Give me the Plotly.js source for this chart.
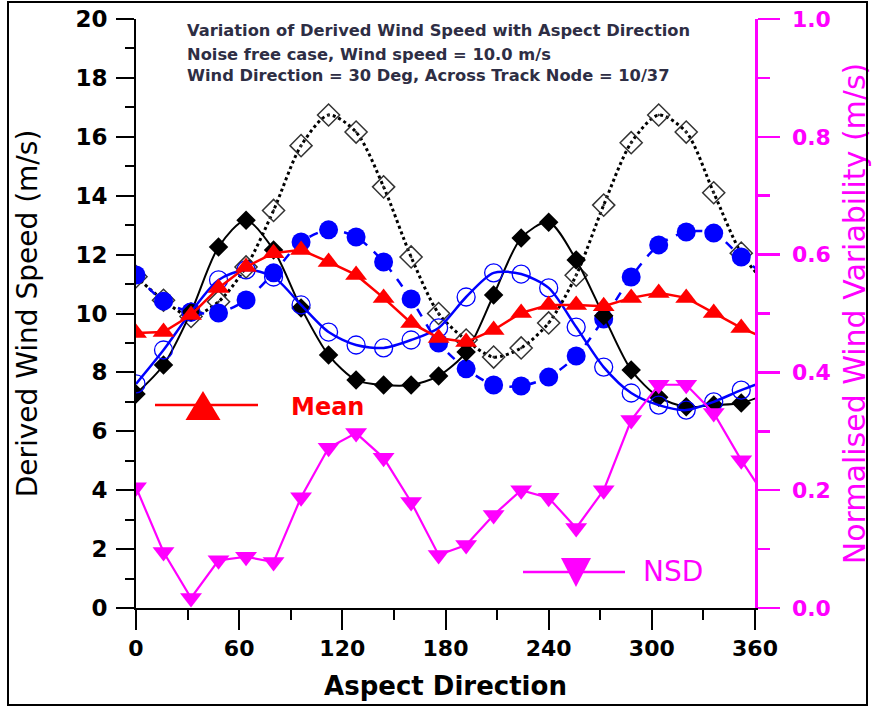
<!DOCTYPE html>
<html>
<head>
<meta charset="utf-8">
<script src="https://cdn.plot.ly/plotly-3.0.1.min.js"></script>
<style>
  html, body { margin: 0; padding: 0; background: #fff; }
  #wrap { position: relative; width: 872px; height: 708px; }
  #chart { position: absolute; left: 0; top: 0; width: 872px; height: 708px; }
  #frame { position: absolute; left: 7px; top: 1px; width: 861px; height: 705px;
           border: 2px solid #000; box-sizing: border-box; pointer-events: none; }
</style>
</head>
<body>
<div id="wrap">
  <div id="chart"></div>
  <div id="frame"></div>
</div>
<script>
// Aspect direction (deg); the last point lies just past the axis end and is clipped
const aspect = [0, 16, 32, 48, 64, 80, 96, 112, 128, 144, 160, 176, 192, 208, 224, 240, 256, 272, 288, 304, 320, 336, 352, 368];

// Derived wind speed (m/s), four solutions
const solidDiamond = [7.27, 8.25, 10.05, 12.26, 13.17, 12.16, 10.19, 8.59, 7.74, 7.57, 7.57, 7.88, 8.69, 10.63, 12.56, 13.10, 11.82, 9.92, 8.08, 7.16, 6.83, 6.89, 6.96, 7.30];
const openCircle   = [7.61, 8.76, 10.05, 11.14, 11.48, 11.24, 10.29, 9.37, 8.93, 8.83, 9.10, 9.51, 10.56, 11.38, 11.34, 10.87, 9.54, 8.18, 7.30, 6.89, 6.72, 7.00, 7.40, 7.75];
const solidCircle  = [11.31, 10.42, 10.05, 10.02, 10.46, 11.38, 12.43, 12.84, 12.60, 11.75, 10.49, 9.00, 8.12, 7.57, 7.54, 7.84, 8.56, 9.81, 11.24, 12.33, 12.77, 12.73, 11.92, 11.20];
const openDiamond  = [11.25, 10.45, 9.90, 10.40, 11.58, 13.50, 15.70, 16.74, 16.16, 14.30, 11.92, 10.00, 9.10, 8.52, 8.83, 9.68, 11.30, 13.68, 15.80, 16.74, 16.16, 14.10, 12.05, 10.90];
// Mean derived wind speed (m/s)
const meanSpeed    = [9.34, 9.37, 9.95, 10.87, 11.58, 12.05, 12.16, 11.75, 11.31, 10.53, 9.68, 9.17, 9.03, 9.44, 10.02, 10.29, 10.29, 10.25, 10.53, 10.70, 10.53, 10.02, 9.51, 9.10];
// Normalised standard deviation (right axis)
const nsd          = [0.205, 0.095, 0.017, 0.081, 0.087, 0.078, 0.188, 0.272, 0.297, 0.255, 0.180, 0.090, 0.107, 0.158, 0.200, 0.187, 0.136, 0.200, 0.319, 0.379, 0.379, 0.331, 0.251, 0.180];

const xTicks = [0, 60, 120, 180, 240, 300, 360];
const headerLines = [
  "Variation of Derived Wind Speed with Aspect Direction",
  "Noise free case, Wind speed = 10.0 m/s",
  "Wind Direction = 30 Deg, Across Track Node = 10/37"
];

const RED = "#ff0000", BLUE = "#0000ff", MAG = "#ff00ff";
const FONT = "DejaVu Sans";

const traces = [
  { x: aspect, y: openDiamond, type: "scatter", mode: "lines+markers", name: "Solution 4",
    line: { color: "#000", width: 3, dash: "dot", shape: "spline", smoothing: 0.8 },
    marker: { symbol: "diamond-open-dot", size: 17, color: "#333", line: { width: 1.5, color: "#333" } } },
  { x: aspect, y: solidCircle, type: "scatter", mode: "lines+markers", name: "Solution 3",
    line: { color: BLUE, width: 2.5, dash: "dash", shape: "spline", smoothing: 0.8 },
    marker: { symbol: "circle", size: 19, color: BLUE } },
  { x: aspect, y: solidDiamond, type: "scatter", mode: "lines+markers", name: "Solution 1",
    line: { color: "#000", width: 2, shape: "spline", smoothing: 0.8 },
    marker: { symbol: "diamond", size: 15, color: "#000" } },
  { x: aspect, y: openCircle, type: "scatter", mode: "lines+markers", name: "Solution 2",
    line: { color: BLUE, width: 2.5, shape: "spline", smoothing: 0.8 },
    marker: { symbol: "circle-open", size: 18, color: BLUE, line: { width: 1.3, color: BLUE } } },
  { x: aspect, y: meanSpeed, type: "scatter", mode: "lines+markers", name: "Mean",
    line: { color: RED, width: 2.5 },
    marker: { symbol: "triangle-up", size: 19, color: RED } },
  { x: aspect, y: nsd, type: "scatter", mode: "lines+markers", name: "NSD", yaxis: "y2",
    line: { color: MAG, width: 2.2 },
    marker: { symbol: "triangle-down", size: 19, color: MAG } }
];

function px2x(px) { return (px - 136) / 619; }
function px2y(py) { return (608 - py) / 589; }

const annotations = headerLines.map((t, i) => ({
  text: t, xref: "paper", yref: "paper", x: px2x(185), y: px2y([31, 54, 75][i]),
  xanchor: "left", yanchor: "middle", showarrow: false,
  font: { family: FONT, size: 16.3, weight: "bold", color: "#2e2e44" }
}));
annotations.push({
  text: "Mean", xref: "paper", yref: "paper", x: px2x(289), y: px2y(407),
  xanchor: "left", yanchor: "middle", showarrow: false,
  font: { family: FONT, size: 24, weight: "bold", color: RED }
});
annotations.push({
  text: "NSD", xref: "paper", yref: "paper", x: px2x(641), y: px2y(571),
  xanchor: "left", yanchor: "middle", showarrow: false,
  font: { family: FONT, size: 28, color: MAG }
});

function tri(pts) {
  return "M" + pts.map(p => px2x(p[0]).toFixed(4) + "," + px2y(p[1]).toFixed(4)).join(" L") + " Z";
}
const shapes = [
  { type: "line", xref: "paper", yref: "paper", x0: px2x(155), x1: px2x(258), y0: px2y(405), y1: px2y(405),
    line: { color: RED, width: 2.5 } },
  { type: "path", xref: "paper", yref: "paper", path: tri([[203, 391], [185.5, 420], [220.5, 420]]),
    fillcolor: RED, line: { width: 0 } },
  { type: "line", xref: "paper", yref: "paper", x0: px2x(523), x1: px2x(625), y0: px2y(572), y1: px2y(572),
    line: { color: MAG, width: 2.5 } },
  { type: "path", xref: "paper", yref: "paper", path: tri([[561, 558], [591, 558], [576, 587]]),
    fillcolor: MAG, line: { width: 0 } }
];

const layout = {
  width: 872, height: 708,
  margin: { l: 136, r: 117, t: 19, b: 100 },
  paper_bgcolor: "#fff", plot_bgcolor: "#fff",
  showlegend: false,
  font: { family: FONT, color: "#000" },
  xaxis: {
    range: [0, 360], tickvals: xTicks, ticktext: xTicks.map(String),
    showline: true, linecolor: "#000", linewidth: 2, mirror: false,
    showgrid: false, zeroline: false,
    ticks: "outside", ticklen: 20, tickwidth: 2, tickcolor: "#000",
    minor: { dtick: 30, ticks: "outside", ticklen: 10, tickwidth: 2, tickcolor: "#000" },
    tickfont: { family: FONT, size: 22, weight: "bold", color: "#000" },
    title: { text: "Aspect Direction", standoff: 16,
             font: { family: FONT, size: 26, weight: "bold", color: "#000" } }
  },
  yaxis: {
    range: [0, 20], dtick: 2,
    showline: true, linecolor: "#000", linewidth: 2, mirror: false,
    showgrid: false, zeroline: false,
    ticks: "outside", ticklen: 18, tickwidth: 2, tickcolor: "#000",
    minor: { dtick: 1, ticks: "outside", ticklen: 9, tickwidth: 2, tickcolor: "#000" },
    ticklabelstandoff: 4,
    tickfont: { family: FONT, size: 23, weight: "bold", color: "#000" },
    title: { text: "Derived Wind Speed (m/s)", standoff: 30,
             font: { family: FONT, size: 28, color: "#000" } }
  },
  yaxis2: {
    range: [0, 1], dtick: 0.2, tickformat: ".1f",
    overlaying: "y", side: "right",
    showline: true, linecolor: MAG, linewidth: 2.5,
    showgrid: false, zeroline: false,
    ticks: "outside", ticklen: 22, tickwidth: 2.5, tickcolor: MAG,
    minor: { dtick: 0.1, ticks: "outside", ticklen: 12, tickwidth: 2.5, tickcolor: MAG },
    ticklabelstandoff: 8,
    tickfont: { family: FONT, size: 22, weight: "bold", color: MAG },
    title: { text: "Normalised Wind Variability (m/s)", standoff: 20,
             font: { family: FONT, size: 30, color: MAG } }
  },
  annotations: annotations,
  shapes: shapes
};

Plotly.newPlot("chart", traces, layout, { displayModeBar: false, staticPlot: true });
</script>
</body>
</html>
